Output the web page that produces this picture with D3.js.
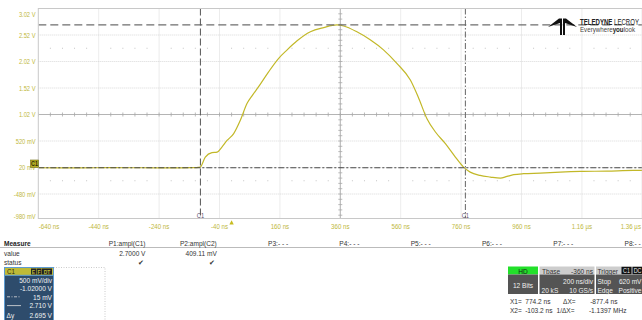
<!DOCTYPE html>
<html>
<head>
<meta charset="utf-8">
<script src="https://cdn.jsdelivr.net/npm/d3@7"></script>
<style>
  html, body { margin: 0; padding: 0; background: #fff; }
  svg { display: block; }
  text { font-family: "Liberation Sans", Arial, sans-serif; }
</style>
</head>
<body>
<script>
// Channel C1 trace: time (ns) and voltage (V)
const traceTimeNs = [-640, -500, -400, -300, -200, -130, -104, -87, -65, -48, -32, -15, 7, 29, 51, 70, 89, 122, 156, 184, 217, 261, 305, 349, 371, 415, 459, 503, 548, 592, 618, 647, 675, 708, 741, 768, 790, 823, 857, 890, 912, 934, 967, 1022, 1088, 1155, 1243, 1331, 1360];
const traceVolt = [0.015, 0.014, 0.016, 0.015, 0.014, 0.016, 0.028, 0.217, 0.30, 0.31, 0.406, 0.53, 0.66, 0.91, 1.227, 1.39, 1.54, 1.82, 2.08, 2.24, 2.41, 2.58, 2.66, 2.71, 2.69, 2.58, 2.43, 2.24, 1.98, 1.67, 1.35, 0.94, 0.69, 0.47, 0.217, 0.028, -0.067, -0.13, -0.16, -0.18, -0.148, -0.116, -0.097, -0.086, -0.067, -0.054, -0.048, -0.035, -0.035];

// Vertical axis (500 mV/div, offset -1.02 V)
const yTickValues = [3.02, 2.52, 2.02, 1.52, 1.02, 0.52, 0.02, -0.48, -0.98];
const yTickLabels = ["3.02 V", "2.52 V", "2.02 V", "1.52 V", "1.02 V", "520 mV", "20 mV", "-480 mV", "-980 mV"];

// Horizontal axis (200 ns/div)
const xTickValues = [-640, -440, -240, -40, 160, 360, 560, 760, 960, 1160, 1360];
const xTickLabels = ["-640 ns", "-440 ns", "-240 ns", "-40 ns", "160 ns", "360 ns", "560 ns", "760 ns", "960 ns", "1.16 µs", "1.36 µs"];

// Cursors
const cursorTimesNs = [-103.2, 774.2];
const cursorLevelsV = [2.710, 0.015];
const triggerTimeNs = 0;

// Measurement table
const measureNames = ["P1:ampl(C1)", "P2:ampl(C2)", "P3:- - -", "P4:- - -", "P5:- - -", "P6:- - -", "P7:- - -", "P8:- - -"];
const measureValues = ["2.7000 V", "409.11 mV", "", "", "", "", "", ""];
const measureStatus = ["✔", "✔", "", "", "", "", "", ""];

// Channel descriptor
const channelRows = ["500 mV/div", "-1.02000 V", "15 mV", "2.710 V", "2.695 V"];

const W = 642, H = 320;
const olive = "#c0b840";
const traceColor = "#c2b828";

const svg = d3.select("body").append("svg").attr("width", W).attr("height", H);
svg.append("rect").attr("width", W).attr("height", H).attr("fill", "#fff");

const plot = { left: 38.3, right: 642.3, top: 8.5, bottom: 218.5 };
const x = d3.scaleLinear().domain([-640, 1360]).range([plot.left, plot.right]);
const y = d3.scaleLinear().domain([-0.98, 3.02]).range([220.5, plot.top]);

svg.append("clipPath").attr("id", "plotClip").append("rect")
  .attr("x", plot.left).attr("y", plot.top)
  .attr("width", plot.right - plot.left).attr("height", plot.bottom - plot.top);

const g = svg.append("g").attr("clip-path", "url(#plotClip)");

// grid
g.selectAll("line.vgrid").data(xTickValues.slice(1, -1)).join("line")
  .attr("x1", d => x(d)).attr("x2", d => x(d))
  .attr("y1", plot.top).attr("y2", plot.bottom)
  .attr("stroke", "#cfcfcf").attr("stroke-width", 0.8).attr("stroke-dasharray", "1,1");
g.selectAll("line.hgrid").data(yTickValues.slice(1, -1)).join("line")
  .attr("x1", plot.left).attr("x2", plot.right)
  .attr("y1", d => y(d)).attr("y2", d => y(d))
  .attr("stroke", "#cfcfcf").attr("stroke-width", 0.8).attr("stroke-dasharray", "1,1");

// centre axes with minor ticks
const xc = x(360), yc = y(1.02);
g.append("line").attr("x1", plot.left).attr("x2", plot.right).attr("y1", yc).attr("y2", yc)
  .attr("stroke", "#b4b4b4").attr("stroke-width", 1);
g.append("line").attr("x1", xc).attr("x2", xc).attr("y1", plot.top).attr("y2", plot.bottom)
  .attr("stroke", "#b4b4b4").attr("stroke-width", 1);
const minorT = d3.range(-640, 1361, 40);
const minorV = d3.range(-0.98, 3.03, 0.1);
g.selectAll("line.tx").data(minorT).join("line")
  .attr("x1", d => x(d)).attr("x2", d => x(d)).attr("y1", yc - 2).attr("y2", yc + 2)
  .attr("stroke", "#a8a8a8").attr("stroke-width", 0.8);
g.selectAll("line.ty").data(minorV).join("line")
  .attr("x1", xc - 2).attr("x2", xc + 2).attr("y1", d => y(d)).attr("y2", d => y(d))
  .attr("stroke", "#a8a8a8").attr("stroke-width", 0.8);

// marker dot rows at +/- 2.5 div
const dotRows = [1.02 + 1.25, 1.02 - 1.25];
const dotT = minorT.filter(t => (t + 640) % 200 !== 0);
dotRows.forEach(v => {
  g.selectAll(null).data(dotT).join("rect")
    .attr("x", d => x(d) - 0.5).attr("y", y(v) - 0.5).attr("width", 1).attr("height", 1)
    .attr("fill", "#c4c4c4");
});

// waveform
const line = d3.line().x((d, i) => x(traceTimeNs[i])).y(d => y(d)).curve(d3.curveMonotoneX);
g.append("path").attr("d", line(traceVolt))
  .attr("fill", "none").attr("stroke", traceColor).attr("stroke-width", 1.2);

// horizontal cursors
g.append("line").attr("x1", plot.left).attr("x2", plot.right)
  .attr("y1", y(cursorLevelsV[0])).attr("y2", y(cursorLevelsV[0]))
  .attr("stroke", "#6e6e6e").attr("stroke-width", 1.2).attr("stroke-dasharray", "8,4");
g.append("line").attr("x1", plot.left).attr("x2", plot.right)
  .attr("y1", y(cursorLevelsV[1])).attr("y2", y(cursorLevelsV[1]))
  .attr("stroke", "#4a4a4a").attr("stroke-width", 1.2).attr("stroke-dasharray", "6,2,2,2");

// vertical cursors
g.append("line").attr("x1", x(cursorTimesNs[0])).attr("x2", x(cursorTimesNs[0]))
  .attr("y1", plot.top).attr("y2", plot.bottom)
  .attr("stroke", "#555").attr("stroke-width", 1).attr("stroke-dasharray", "7,3");
g.append("line").attr("x1", x(cursorTimesNs[1])).attr("x2", x(cursorTimesNs[1]))
  .attr("y1", plot.top).attr("y2", plot.bottom)
  .attr("stroke", "#666").attr("stroke-width", 1).attr("stroke-dasharray", "6,2,1.5,2");
cursorTimesNs.forEach(t => {
  svg.append("text").attr("x", x(t)).attr("y", 217.5).attr("text-anchor", "middle")
    .attr("font-size", 7).attr("fill", "#5a4d6e").text("C1");
});

// plot frame
svg.append("rect").attr("x", plot.left).attr("y", plot.top)
  .attr("width", plot.right - plot.left).attr("height", plot.bottom - plot.top)
  .attr("fill", "none").attr("stroke", "#c8c8c8").attr("stroke-width", 1);

// y labels
svg.selectAll("text.yl").data(yTickValues).join("text")
  .attr("x", 35.5).attr("y", d => Math.max(14, Math.min(216.5, y(d))) + 2.5)
  .attr("text-anchor", "end").attr("font-size", 7).attr("fill", olive)
  .text((d, i) => yTickLabels[i]);

// x labels
svg.selectAll("text.xl").data(xTickValues).join("text")
  .attr("x", (d, i) => i === 0 ? plot.left + 0.5 : (i === xTickValues.length - 1 ? 641 : x(d)))
  .attr("y", 228.8)
  .attr("text-anchor", (d, i) => i === 0 ? "start" : (i === xTickValues.length - 1 ? "end" : "middle"))
  .attr("font-size", 7.5).attr("fill", olive)
  .text((d, i) => xTickLabels[i]);

// channel ground marker
const gm = svg.append("g");
gm.append("rect").attr("x", 30.5).attr("y", 160).attr("width", 8).attr("height", 7.5)
  .attr("fill", "#b5ad22").attr("stroke", "#6e6a10").attr("stroke-width", 0.6);
gm.append("text").attr("x", 34.5).attr("y", 166).attr("text-anchor", "middle")
  .attr("font-size", 6.5).attr("font-weight", "bold").attr("fill", "#2c2a08").text("C1");

// trigger marker
svg.append("path")
  .attr("d", d3.line()([[x(triggerTimeNs) - 2.2, 224.5], [x(triggerTimeNs) + 2.2, 224.5], [x(triggerTimeNs), 220.3]]) + "Z")
  .attr("fill", "#c8bc20");

// measurement table
const mt = svg.append("g").attr("font-size", 8).attr("fill", "#333");
mt.append("text").attr("x", 4).attr("y", 246).attr("font-weight", "bold").attr("fill", "#222").text("Measure");
mt.append("text").attr("x", 4).attr("y", 256).text("value");
mt.append("text").attr("x", 4).attr("y", 264.5).text("status");
mt.append("line").attr("x1", 0).attr("x2", W).attr("y1", 247.5).attr("y2", 247.5)
  .attr("stroke", "#aaa").attr("stroke-width", 0.8);
const colRight = i => 145.5 + i * 71.3;
mt.selectAll("text.mn").data(measureNames).join("text")
  .attr("x", (d, i) => colRight(i)).attr("y", 246).attr("text-anchor", "end").text(d => d);
mt.selectAll("text.mv").data(measureValues).join("text")
  .attr("x", (d, i) => colRight(i)).attr("y", 256).attr("text-anchor", "end").text(d => d);

// channel descriptor box
const cb = svg.append("g");
cb.append("rect").attr("x", 53.5).attr("y", 267.5).attr("width", 51.5).attr("height", 56)
  .attr("fill", "none").attr("stroke", "#bdbdbd").attr("stroke-width", 0.8).attr("stroke-dasharray", "1,1.5");
cb.append("rect").attr("x", 4.5).attr("y", 275).attr("width", 49).attr("height", 50)
  .attr("fill", "#2e4c6c").attr("stroke", "#5d9bd0").attr("stroke-width", 1);
cb.append("rect").attr("x", 4.5).attr("y", 267.5).attr("width", 49).attr("height", 7.8)
  .attr("fill", "#bfba36").attr("stroke", "#5d9bd0").attr("stroke-width", 1);
cb.append("text").attr("x", 7).attr("y", 274).attr("font-size", 7.5).attr("fill", "#2a2a10").text("C1");
[["E", 31, 5], ["F", 36.5, 5], ["DT", 42, 10]].forEach(([s, bx, bw]) => {
  cb.append("rect").attr("x", bx).attr("y", 268.5).attr("width", bw).attr("height", 6).attr("fill", "#222");
  cb.append("text").attr("x", bx + bw / 2).attr("y", 273.8).attr("text-anchor", "middle")
    .attr("font-size", 6).attr("font-weight", "bold").attr("fill", "#bfba36").text(s);
});
const rowY = [283, 291.2, 299.6, 308.4, 317.6];
cb.selectAll("text.cr").data(channelRows).join("text")
  .attr("x", 52).attr("y", (d, i) => rowY[i]).attr("text-anchor", "end")
  .attr("font-size", 8).attr("fill", "#f2f2f2").text(d => d);
cb.append("line").attr("x1", 7).attr("x2", 21).attr("y1", 296.8).attr("y2", 296.8)
  .attr("stroke", "#e0e0e0").attr("stroke-width", 0.8).attr("stroke-dasharray", "3,1.5,1,1.5");
cb.append("line").attr("x1", 7).attr("x2", 21).attr("y1", 305.6).attr("y2", 305.6)
  .attr("stroke", "#e0e0e0").attr("stroke-width", 0.8);
cb.append("text").attr("x", 6.5).attr("y", 317.6).attr("font-size", 8).attr("fill", "#f2f2f2").text("Δy");

// acquisition panels
const ap = svg.append("g").attr("font-size", 8);
ap.append("rect").attr("x", 508).attr("y", 266.5).attr("width", 30).attr("height", 8).attr("fill", "#22e02a");
ap.append("text").attr("x", 523).attr("y", 273.5).attr("text-anchor", "middle").attr("fill", "#1a1a1a").text("HD");
ap.append("rect").attr("x", 508).attr("y", 274.5).attr("width", 30).attr("height", 19.5).attr("fill", "#545454");
ap.append("text").attr("x", 523).attr("y", 287.5).attr("text-anchor", "middle").attr("fill", "#f0f0f0").text("12 Bits");

ap.append("rect").attr("x", 539.5).attr("y", 266.5).attr("width", 55).attr("height", 8).attr("fill", "#cdcdcd");
ap.append("text").attr("x", 542).attr("y", 273.5).attr("fill", "#333").text("Tbase");
ap.append("text").attr("x", 593).attr("y", 273.5).attr("text-anchor", "end").attr("fill", "#333").text("-360 ns");
ap.append("rect").attr("x", 539.5).attr("y", 274.5).attr("width", 55).attr("height", 19.5).attr("fill", "#545454");
ap.append("text").attr("x", 593).attr("y", 284.3).attr("text-anchor", "end").attr("fill", "#f0f0f0").text("200 ns/div");
ap.append("text").attr("x", 541.5).attr("y", 292.5).attr("fill", "#f0f0f0").text("20 kS");
ap.append("text").attr("x", 593).attr("y", 292.5).attr("text-anchor", "end").attr("fill", "#f0f0f0").text("10 GS/s");

ap.append("rect").attr("x", 596).attr("y", 266.5).attr("width", 46).attr("height", 8).attr("fill", "#cdcdcd");
ap.append("text").attr("x", 597.5).attr("y", 273.5).attr("fill", "#333").text("Trigger");
ap.append("rect").attr("x", 621.5).attr("y", 266.8).attr("width", 10).attr("height", 7.4).attr("fill", "#111");
ap.append("text").attr("x", 626.5).attr("y", 273.2).attr("text-anchor", "middle").attr("font-size", 6.5).attr("fill", "#eee").text("C1");
ap.append("rect").attr("x", 632.5).attr("y", 266.8).attr("width", 10).attr("height", 7.4).attr("fill", "#111");
ap.append("text").attr("x", 637.5).attr("y", 273.2).attr("text-anchor", "middle").attr("font-size", 6.5).attr("fill", "#eee").text("DC");
ap.append("rect").attr("x", 596).attr("y", 274.5).attr("width", 46).attr("height", 19.5).attr("fill", "#545454");
ap.append("text").attr("x", 597.5).attr("y", 284.3).attr("fill", "#f0f0f0").text("Stop");
ap.append("text").attr("x", 641.5).attr("y", 284.3).attr("text-anchor", "end").attr("fill", "#f0f0f0").text("620 mV");
ap.append("text").attr("x", 597.5).attr("y", 292.5).attr("fill", "#f0f0f0").text("Edge");
ap.append("text").attr("x", 641.5).attr("y", 292.5).attr("text-anchor", "end").attr("fill", "#f0f0f0").text("Positive");

// cursor readouts
const cr = svg.append("g").attr("font-size", 8).attr("fill", "#333");
cr.append("text").attr("x", 510).attr("y", 303.5).text("X1=");
cr.append("text").attr("x", 550.5).attr("y", 303.5).attr("text-anchor", "end").text("774.2 ns");
cr.append("text").attr("x", 563).attr("y", 303.5).text("ΔX=");
cr.append("text").attr("x", 617.5).attr("y", 303.5).attr("text-anchor", "end").text("-877.4 ns");
cr.append("text").attr("x", 510).attr("y", 312.8).text("X2=");
cr.append("text").attr("x", 552.5).attr("y", 312.8).attr("text-anchor", "end").text("-103.2 ns");
cr.append("text").attr("x", 556.5).attr("y", 312.8).text("1/ΔX=");
cr.append("text").attr("x", 626.5).attr("y", 312.8).attr("text-anchor", "end").text("-1.1397 MHz");

// condensed face: squeeze every plain label horizontally
svg.selectAll("text").each(function () {
  const w = this.getComputedTextLength();
  if (w > 0) d3.select(this).attr("textLength", (w * 0.82).toFixed(2)).attr("lengthAdjust", "spacingAndGlyphs");
});

// status check marks
mt.selectAll("text.ms").data(measureStatus).join("text")
  .attr("x", (d, i) => colRight(i) - 2).attr("y", 265).attr("text-anchor", "end")
  .attr("font-size", 7).attr("font-family", "DejaVu Sans").attr("fill", "#333").text(d => d);

// brand mark
const logo = svg.append("g");
logo.append("path").attr("d", "M548,27 L559,18.5 L562,18.5 L562,35 L560,35 L560,23 Z").attr("fill", "#111");
logo.append("path").attr("d", "M577,27 L566,18.5 L563,18.5 L563,35 L565,35 L565,23 Z").attr("fill", "#111");
logo.append("text").attr("x", 580).attr("y", 24.5).attr("font-size", 8.5).attr("fill", "#222")
  .attr("textLength", 59).attr("lengthAdjust", "spacingAndGlyphs")
  .call(t => {
    t.append("tspan").attr("font-weight", "bold").text("TELEDYNE");
    t.append("tspan").attr("font-weight", "normal").text(" LECROY");
  });
logo.append("text").attr("x", 580).attr("y", 32).attr("font-size", 6.3).attr("fill", "#444")
  .attr("textLength", 55).attr("lengthAdjust", "spacingAndGlyphs")
  .call(t => {
    t.append("tspan").text("Everywhere");
    t.append("tspan").attr("font-weight", "bold").attr("fill", "#222").text("you");
    t.append("tspan").text("look");
  });
</script>
</body>
</html>
